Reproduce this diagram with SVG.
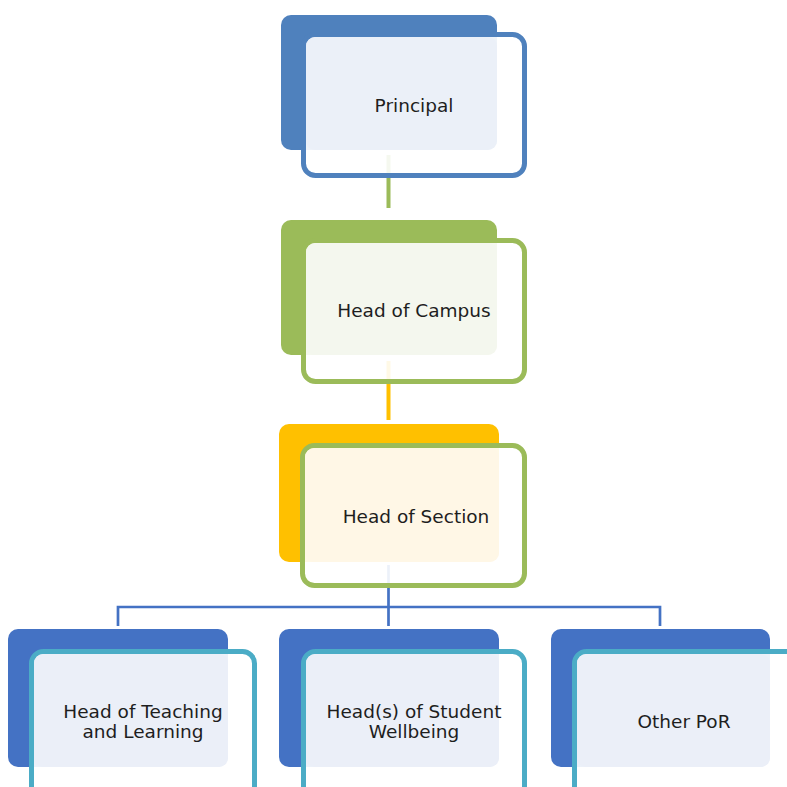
<svg xmlns="http://www.w3.org/2000/svg" width="787" height="787" viewBox="0 0 787 787">
<style>
.outline{stroke-width:5;fill:#ffffff;fill-opacity:0.9}
.lbl{font-family:"DejaVu Sans",sans-serif;font-size:18.5px;fill:#1e1e1e;text-anchor:middle}
</style>
<rect width="787" height="787" fill="#ffffff"/>
<g id="connectors" fill="none">
<line x1="388.5" y1="155" x2="388.5" y2="208" stroke="#9BBB59" stroke-width="4"/>
<line x1="388.5" y1="361" x2="388.5" y2="420" stroke="#FFC000" stroke-width="4"/>
<path d="M388.5 565 V607 M118 626 V607 H660 V626 M388.5 607 V626" stroke="#4472C4" stroke-width="2.7"/>
</g>
<g id="principal">
<rect x="281" y="15" width="216" height="135" rx="10" fill="#4F81BD"/>
<rect class="outline" x="303.5" y="34.5" width="221" height="141" rx="12" stroke="#4F81BD"/>
<rect x="306" y="37" width="191" height="113" rx="9" fill="#EBF0F8"/>
<text class="lbl" x="414" y="111.5">Principal</text>
</g>
<g id="campus">
<rect x="281" y="220" width="216" height="135" rx="10" fill="#9BBB59"/>
<rect class="outline" x="303.5" y="240.5" width="221" height="141" rx="12" stroke="#9BBB59"/>
<rect x="306" y="243" width="191" height="112" rx="9" fill="#F4F7EE"/>
<text class="lbl" x="414" y="317">Head of Campus</text>
</g>
<g id="section">
<rect x="279" y="424" width="220" height="138" rx="10" fill="#FFC000"/>
<rect class="outline" x="302.5" y="445.5" width="222" height="140" rx="12" stroke="#9BBB59"/>
<rect x="305" y="448" width="194" height="114" rx="9" fill="#FFF7E6"/>
<text class="lbl" x="416" y="523">Head of Section</text>
</g>
<g id="teaching">
<rect x="8" y="629" width="220" height="138" rx="10" fill="#4472C4"/>
<rect class="outline" x="31.5" y="651.5" width="223" height="150" rx="12" stroke="#4BACC6"/>
<rect x="34" y="654" width="194" height="113" rx="9" fill="#EBEFF8"/>
<text class="lbl" x="143" y="718">Head of Teaching</text>
<text class="lbl" x="143" y="737.5">and Learning</text>
</g>
<g id="wellbeing">
<rect x="279" y="629" width="220" height="138" rx="10" fill="#4472C4"/>
<rect class="outline" x="303.5" y="651.5" width="221" height="150" rx="12" stroke="#4BACC6"/>
<rect x="306" y="654" width="193" height="113" rx="9" fill="#EBEFF8"/>
<text class="lbl" x="414" y="718">Head(s) of Student</text>
<text class="lbl" x="414" y="737.5">Wellbeing</text>
</g>
<g id="other">
<rect x="551" y="629" width="219" height="138" rx="10" fill="#4472C4"/>
<rect class="outline" x="574.5" y="651.5" width="223" height="150" rx="12" stroke="#4BACC6"/>
<rect x="577" y="654" width="193" height="113" rx="9" fill="#EBEFF8"/>
<text class="lbl" x="684" y="728">Other PoR</text>
</g>
</svg>
